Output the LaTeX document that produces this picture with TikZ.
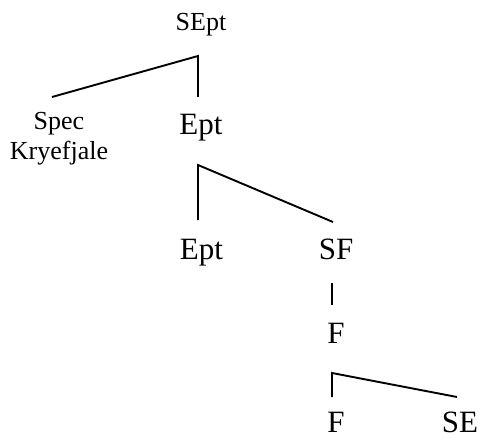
\documentclass[tikz,border=0pt]{standalone}
\usepackage{fontspec}
\setmainfont{Liberation Serif}
\usepackage{tikz}
\usetikzlibrary{calc}

\begin{document}
\begin{tikzpicture}[x=1pt, y=-1pt,
    small/.style={inner sep=0pt, anchor=base, align=center, font=\fontsize{26}{30}\selectfont},
    large/.style={inner sep=0pt, anchor=base, font=\fontsize{31}{34}\selectfont},
    branch/.style={line width=1.9pt, line cap=butt, line join=miter}]
    \useasboundingbox (0,0) rectangle (478,438);

    \node[small] (sept) at (201,31) {SEpt};
    % base of a two-line node sits on its last line
    \node[small] (spec) at (59,160) {Spec\\Kryefjale};
    \node[large] (ept) at (201,135) {Ept};
    \node[large] (eptb) at (201.5,259) {Ept};
    \node[large] (sf) at (336,259) {SF};
    \node[large] (f) at (336,343) {F};
    \node[large] (fb) at (336,432) {F};
    \node[large] (se) at (460,432) {SE};

    \coordinate (j1) at ($(sept.base)+(-3,25)$);
    \coordinate (j2) at ($(ept.base)+(-3,30)$);
    \coordinate (j3) at ($(f.base)+(-4,30)$);

    \draw[branch] ($(spec.base)+(-7,-63)$) -- (j1) -- ($(ept.base)+(-3,-38)$);
    \draw[branch] ($(eptb.base)+(-3.5,-39)$) -- (j2) -- ($(sf.base)+(-3,-37)$);
    \draw[branch] ($(sf.base)+(-4,24)$) -- ($(f.base)+(-4,-38)$);
    \draw[branch] ($(fb.base)+(-4,-35)$) -- (j3) -- ($(se.base)+(-3,-35)$);
\end{tikzpicture}
\end{document}
